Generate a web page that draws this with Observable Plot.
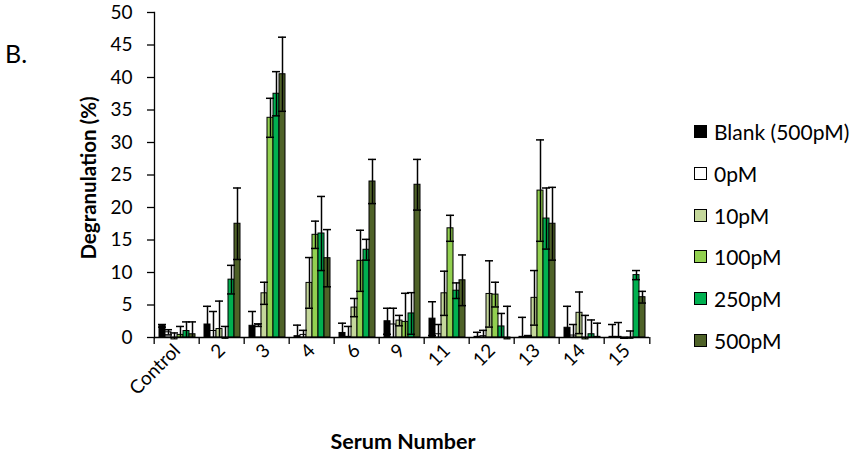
<!DOCTYPE html>
<html><head><meta charset="utf-8">
<script src="https://cdn.jsdelivr.net/npm/d3@7"></script>
<script src="https://cdn.jsdelivr.net/npm/@observablehq/plot@0.6"></script>
<style>
body{margin:0;background:#fff;font-family:Lato,"Open Sans",sans-serif;color:#000;}
#wrap{position:relative;width:851px;height:454px;overflow:hidden;}
#panel{position:absolute;left:5px;top:38px;font-size:25px;}
#ytitle{position:absolute;left:88px;top:178px;transform:translate(-50%,-50%) rotate(-90deg);font-weight:bold;font-size:20.5px;white-space:nowrap;}
#xtitle{position:absolute;left:403px;top:441px;transform:translate(-50%,-50%);font-weight:bold;font-size:21.5px;white-space:nowrap;}
#legend{position:absolute;left:694px;top:111px;}
.item{display:flex;align-items:center;height:41.7px;font-size:21px;}
.sw{width:11px;height:11px;border:1px solid #000;margin-right:7px;}
#chart{position:absolute;left:0;top:0;}
</style></head><body>
<div id="wrap">
<div id="chart"></div>
<div id="panel">B.</div>
<div id="ytitle">Degranulation (%)</div>
<div id="xtitle">Serum Number</div>
<div id="legend"></div>
</div>
<script>
const groups = ["Control","2","3","4","6","9","11","12","13","14","15"];
const series = ["Blank (500pM)","0pM","10pM","100pM","250pM","500pM"];
const colors = ["#000000","#ffffff","#c4d79b","#92d050","#00b050","#4f6228"];
const yTicks = [0,5,10,15,20,25,30,35,40,45,50];

const blank  = [1.8, 2.0, 1.8, 0.2, 0.7, 2.5, 2.9, 0.1, 0.1, 1.5, 0.1];
const blankE = [0.2, 2.8, 2.2, 1.7, 1.5, 2.0, 2.6, 0.7, 3.0, 3.3, 1.9];
const p0     = [0.8, 1.0, 1.9, 0.4, 0.1, 2.0, 0.5, 0.2, 0.2, 0.3, 0.1];
const p0E    = [0.4, 3.0, 0.2, 0.7, 1.6, 2.5, 1.5, 0.9, 0.1, 1.7, 2.2];
const p10    = [-0.3, 1.3, 6.8, 8.4, 4.6, 2.6, 6.8, 6.7, 6.1, 3.8, -0.2];
const p10E   = [1.0, 4.3, 1.7, 3.9, 1.4, 0.8, 3.4, 5.1, 4.2, 3.2, 0.1];
const p100   = [0.4, -0.2, 33.8, 15.8, 11.8, 2.4, 16.8, 6.6, 22.6, -0.3, -0.2];
const p100E  = [1.3, 1.9, 3.0, 2.1, 4.7, 4.4, 2.0, 1.9, 7.8, 3.7, 1.2];
const p250   = [1.0, 8.9, 37.5, 16.0, 13.5, 3.7, 7.2, 1.7, 18.3, 0.5, 9.6];
const p250E  = [1.4, 2.2, 3.4, 5.7, 1.6, 3.2, 1.2, 2.0, 4.7, 2.2, 0.7];
const p500   = [0.5, 17.5, 40.5, 12.2, 24.0, 23.5, 8.8, -0.3, 17.5, 0.1, 6.2];
const p500E  = [1.9, 5.5, 5.7, 4.4, 3.4, 3.9, 3.9, 5.1, 5.6, 2.1, 0.9];

const vals = [blank, p0, p10, p100, p250, p500];
const errs = [blankE, p0E, p10E, p100E, p250E, p500E];

const rows = [];
groups.forEach((g, i) => series.forEach((s, j) => rows.push({group: g, series: s, value: vals[j][i], err: errs[j][i]})));

const W = 851, H = 454, ML = 150, MR = 199, MT = 12, MB = 117;
const bw = (W - ML - MR) / groups.length;
const upper = d => d.value + d.err;
const lower = d => Math.max(d.value - d.err, Math.min(d.value, 0));

const chart = Plot.plot({
  width: W, height: H, marginLeft: ML, marginRight: MR, marginTop: MT, marginBottom: MB,
  style: {fontFamily: "Lato, 'Open Sans', sans-serif", fontSize: "19px", color: "#000", background: "transparent"},
  fx: {domain: groups, padding: 0, label: null},
  x: {domain: series, paddingInner: 0, paddingOuter: 0.6, axis: null},
  y: {domain: [0, 50], label: null},
  color: {domain: series, range: colors},
  marks: [
    Plot.axisY({ticks: yTicks, tickSize: 7, tickPadding: 15, fontSize: 19, label: null, strokeWidth: 1.3}),
    Plot.frame({anchor: "left", facetAnchor: "left", strokeWidth: 1.3}),
    Plot.barY(rows, {fx: "group", x: "series", y: "value", fill: "series", stroke: "#000", strokeWidth: 1}),
    Plot.ruleX(rows, {fx: "group", x: "series", y1: lower, y2: upper, stroke: "#000", strokeWidth: 1.5}),
    Plot.tickY(rows, {fx: "group", x: "series", y: upper, stroke: "#000", strokeWidth: 1.5, insetLeft: -1, insetRight: -1}),
    Plot.tickY(rows.filter(d => d.value - d.err > 0), {fx: "group", x: "series", y: d => d.value - d.err, stroke: "#000", strokeWidth: 1.5, insetLeft: -1, insetRight: -1}),
    Plot.ruleY([0], {stroke: "#000", strokeWidth: 1.3}),
    Plot.axisFx({anchor: "bottom", tickSize: 0, tickRotate: -45, tickPadding: 10, fontSize: 19, label: null}),
    Plot.axisFx({anchor: "bottom", text: null, tickSize: 7, dx: -bw / 2, label: null, strokeWidth: 1.3}),
    Plot.axisFx({anchor: "bottom", ticks: [groups[groups.length - 1]], text: null, tickSize: 7, dx: bw / 2, label: null, strokeWidth: 1.3})
  ]
});
document.getElementById("chart").appendChild(chart);

const legend = document.getElementById("legend");
series.forEach((s, j) => {
  const it = document.createElement("div");
  it.className = "item";
  const sw = document.createElement("div");
  sw.className = "sw";
  sw.style.background = colors[j];
  const tx = document.createElement("span");
  tx.textContent = s;
  it.appendChild(sw); it.appendChild(tx);
  legend.appendChild(it);
});
</script>
</body></html>
